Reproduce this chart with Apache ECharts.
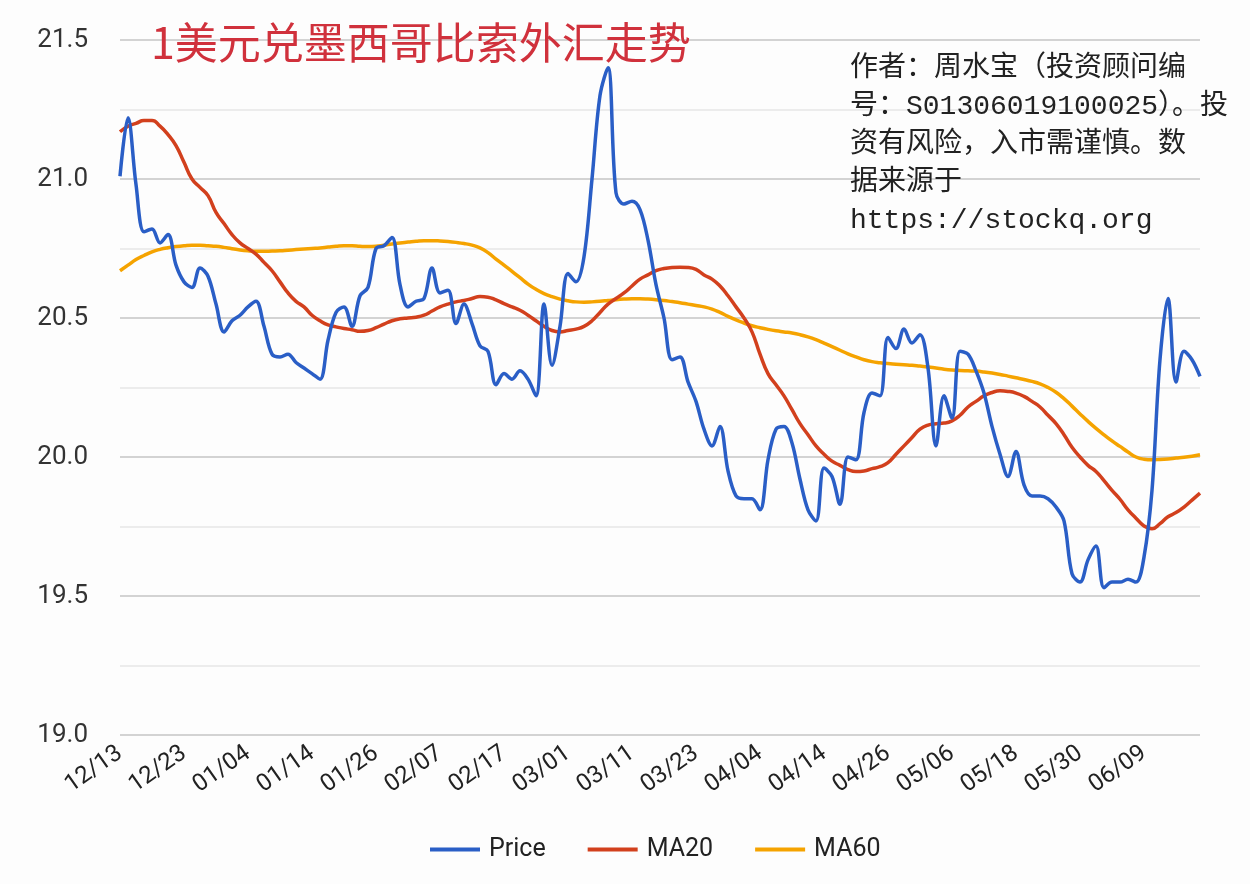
<!DOCTYPE html>
<html>
<head>
<meta charset="utf-8">
<script src="https://cdn.jsdelivr.net/npm/echarts@6/dist/echarts.min.js"></script>
<style>
html,body{margin:0;padding:0;background:#fdfdfd;}
#chart{width:1250px;height:884px;}
</style>
</head>
<body>
<div id="chart"></div>
<script>
const categories = [
  '12/13','12/14','12/15','12/16','12/19','12/20','12/21','12/22',
  '12/23','12/26','12/27','12/28','12/29','12/30','01/02','01/03',
  '01/04','01/05','01/06','01/09','01/10','01/11','01/12','01/13',
  '01/14','01/17','01/18','01/19','01/20','01/23','01/24','01/25',
  '01/26','01/27','01/30','01/31','02/01','02/02','02/03','02/06',
  '02/07','02/08','02/09','02/10','02/13','02/14','02/15','02/16',
  '02/17','02/20','02/21','02/22','02/23','02/24','02/27','02/28',
  '03/01','03/02','03/03','03/06','03/07','03/08','03/09','03/10',
  '03/11','03/14','03/15','03/16','03/17','03/20','03/21','03/22',
  '03/23','03/24','03/27','03/28','03/29','03/30','03/31','04/03',
  '04/04','04/05','04/06','04/07','04/10','04/11','04/12','04/13',
  '04/14','04/17','04/18','04/19','04/20','04/21','04/24','04/25',
  '04/26','04/27','04/28','05/01','05/02','05/03','05/04','05/05',
  '05/06','05/09','05/10','05/11','05/12','05/15','05/16','05/17',
  '05/18','05/19','05/22','05/23','05/24','05/25','05/26','05/29',
  '05/30','05/31','06/01','06/02','06/05','06/06','06/07','06/08',
  '06/09','06/12','06/13','06/14','06/15','06/16','06/19','06/20'
];

const price = [
  21.01, 21.22, 20.98, 20.81, 20.82, 20.77, 20.80, 20.69,
  20.63, 20.61, 20.68, 20.65, 20.55, 20.45, 20.49, 20.51,
  20.54, 20.56, 20.47, 20.37, 20.36, 20.37, 20.34, 20.32,
  20.30, 20.28, 20.42, 20.52, 20.54, 20.47, 20.58, 20.61,
  20.75, 20.76, 20.79, 20.62, 20.54, 20.56, 20.57, 20.68,
  20.59, 20.60, 20.48, 20.55, 20.48, 20.40, 20.38, 20.26,
  20.30, 20.28, 20.31, 20.28, 20.22, 20.55, 20.33, 20.47,
  20.66, 20.63, 20.72, 21.00, 21.30, 21.40, 20.95, 20.91,
  20.92, 20.89, 20.78, 20.62, 20.50, 20.35, 20.36, 20.27,
  20.20, 20.10, 20.04, 20.11, 19.95, 19.86, 19.85, 19.85,
  19.81, 19.99, 20.10, 20.11, 20.05, 19.92, 19.81, 19.77,
  19.96, 19.93, 19.83, 20.00, 19.99, 20.16, 20.23, 20.22,
  20.43, 20.39, 20.46, 20.41, 20.44, 20.32, 20.04, 20.22,
  20.14, 20.38, 20.37, 20.31, 20.23, 20.11, 20.01, 19.93,
  20.02, 19.90, 19.86, 19.86, 19.85, 19.82, 19.77, 19.58,
  19.55, 19.63, 19.68, 19.53, 19.55, 19.55, 19.56, 19.55,
  19.64, 19.88, 20.35, 20.57, 20.27, 20.38, 20.35, 20.29
];

const ma20 = [
  21.17, 21.19, 21.20, 21.21, 21.21, 21.19, 21.16, 21.12,
  21.06, 21.00, 20.97, 20.94, 20.88, 20.84, 20.80, 20.77,
  20.75, 20.73, 20.70, 20.67, 20.63, 20.59, 20.56, 20.54,
  20.51, 20.49, 20.475, 20.468, 20.462, 20.458, 20.452, 20.455,
  20.465, 20.478, 20.49, 20.497, 20.50, 20.503, 20.51, 20.525,
  20.54, 20.55, 20.558, 20.563, 20.57, 20.577, 20.575, 20.565,
  20.552, 20.54, 20.528, 20.51, 20.49, 20.47, 20.455, 20.45,
  20.455, 20.46, 20.47, 20.49, 20.52, 20.55, 20.57, 20.59,
  20.615, 20.64, 20.655, 20.67, 20.678, 20.682, 20.683, 20.682,
  20.675, 20.655, 20.64, 20.615, 20.58, 20.54, 20.50, 20.45,
  20.37, 20.30, 20.26, 20.22, 20.17, 20.12, 20.08, 20.04,
  20.01, 19.985, 19.97, 19.955, 19.948, 19.95, 19.958, 19.965,
  19.98, 20.01, 20.04, 20.07, 20.10, 20.115, 20.12, 20.122,
  20.13, 20.15, 20.18, 20.20, 20.22, 20.232, 20.238, 20.236,
  20.23, 20.218, 20.20, 20.18, 20.15, 20.12, 20.08, 20.035,
  20.00, 19.97, 19.948, 19.915, 19.88, 19.848, 19.81, 19.78,
  19.752, 19.742, 19.76, 19.785, 19.80, 19.82, 19.845, 19.87
];

const ma60 = [
  20.67, 20.69, 20.71, 20.725, 20.738, 20.747, 20.753, 20.757,
  20.76, 20.762, 20.762, 20.76, 20.758, 20.754, 20.749, 20.745,
  20.742, 20.74, 20.74, 20.741, 20.742, 20.744, 20.746, 20.748,
  20.75, 20.752, 20.755, 20.758, 20.76, 20.76, 20.758, 20.757,
  20.758, 20.762, 20.766, 20.77, 20.773, 20.776, 20.778, 20.778,
  20.777, 20.775, 20.772, 20.768, 20.762, 20.752, 20.735, 20.712,
  20.69, 20.668, 20.645, 20.622, 20.603, 20.588, 20.577, 20.568,
  20.562, 20.558, 20.557, 20.558, 20.56, 20.563, 20.566, 20.568,
  20.569, 20.569, 20.568, 20.566, 20.563, 20.559, 20.555, 20.55,
  20.545, 20.54, 20.532, 20.52, 20.506, 20.493, 20.482, 20.472,
  20.465, 20.459, 20.454, 20.45, 20.446, 20.44, 20.432, 20.422,
  20.41, 20.397, 20.384, 20.371, 20.36, 20.35, 20.343, 20.339,
  20.336, 20.334, 20.332, 20.33, 20.327, 20.324, 20.32, 20.316,
  20.313, 20.311, 20.31, 20.309, 20.306, 20.302, 20.297, 20.291,
  20.285, 20.279, 20.272, 20.263, 20.25, 20.233, 20.21, 20.183,
  20.155, 20.128, 20.103, 20.08, 20.058, 20.038, 20.018, 20.0,
  19.992, 19.99, 19.991, 19.993, 19.996, 19.999, 20.003, 20.008
];

const seriesNames = ['Price', 'MA20', 'MA60'];
const titleText = '1美元兑墨西哥比索外汇走势';
const noteText = '作者：周水宝（投资顾问编\n号：S01306019100025）。投\n资有风险，入市需谨慎。数\n据来源于\nhttps://stockq.org';

const chart = echarts.init(document.getElementById('chart'), null, {renderer: 'canvas'});
const lineColors = ['#2a5ec6', '#d2401d', '#f5a300'];

chart.setOption({
  backgroundColor: '#fdfdfd',
  animation: false,
  title: {
    text: titleText,
    left: 146,
    top: 16,
    textStyle: {
      color: '#d0313c',
      fontSize: 43,
      fontWeight: 'normal',
      fontFamily: '"Noto Sans CJK SC", serif'
    }
  },
  graphic: [{
    type: 'text',
    left: 850,
    top: 50,
    z: 100,
    style: {
      text: noteText,
      fill: '#222',
      font: '28px "Liberation Mono", "Noto Sans CJK SC", monospace',
      lineHeight: 38
    }
  }],
  legend: {
    bottom: 17,
    left: 425,
    icon: 'rect',
    itemWidth: 50,
    itemHeight: 4,
    itemGap: 42,
    data: seriesNames,
    textStyle: {fontSize: 25, color: '#222', fontFamily: 'Roboto, sans-serif', padding: [0, 0, 0, 4]}
  },
  grid: {left: 120, right: 50, top: 40, bottom: 149},
  xAxis: {
    type: 'category',
    data: categories,
    boundaryGap: false,
    axisLine: {show: false},
    axisTick: {show: false},
    axisLabel: {
      interval: 7,
      rotate: 35,
      fontSize: 24,
      color: '#222',
      fontFamily: 'Roboto, sans-serif',
      margin: 16
    },
    splitLine: {show: false}
  },
  yAxis: {
    type: 'value',
    min: 19,
    max: 21.5,
    interval: 0.25,
    axisLine: {show: false},
    axisTick: {show: false},
    axisLabel: {
      fontSize: 26,
      color: '#333',
      fontFamily: 'Roboto, sans-serif',
      margin: 32,
      formatter: function (v) {
        return Math.round(v * 100) % 50 === 0 ? v.toFixed(1) : '';
      }
    },
    splitLine: {lineStyle: {color: ['#c4c4c4', '#e6e6e6'], width: 1.5}}
  },
  series: [
    {name: seriesNames[0], type: 'line', data: price, smooth: 0.35, showSymbol: false,
     lineStyle: {width: 3.5, color: lineColors[0]}, itemStyle: {color: lineColors[0]}, z: 3},
    {name: seriesNames[1], type: 'line', data: ma20, smooth: 0.5, showSymbol: false,
     lineStyle: {width: 3.5, color: lineColors[1]}, itemStyle: {color: lineColors[1]}, z: 2},
    {name: seriesNames[2], type: 'line', data: ma60, smooth: 0.5, showSymbol: false,
     lineStyle: {width: 3.5, color: lineColors[2]}, itemStyle: {color: lineColors[2]}, z: 1}
  ]
});
</script>
</body>
</html>
